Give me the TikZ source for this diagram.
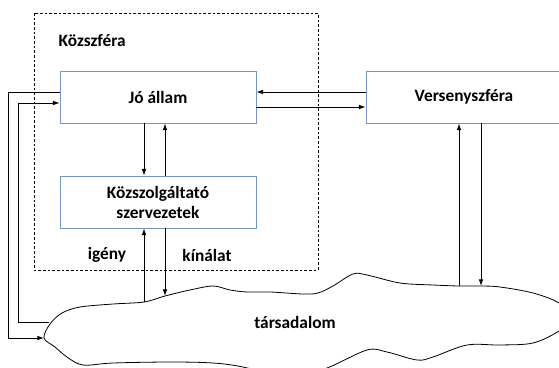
\documentclass[tikz,border=0pt]{standalone}
\usepackage{fontspec}
\setmainfont{Carlito}
\usetikzlibrary{arrows.meta}
\definecolor{boxblue}{RGB}{120,150,195}
\tikzset{
  box/.style={draw=boxblue,line width=.6pt,fill=white,minimum width=147pt,minimum height=39pt,align=center,font=\fontsize{13}{15}\selectfont\bfseries},
  arr/.style={-{Latex[length=5pt,width=3.5pt]},line width=.7pt},
  lbl/.style={font=\fontsize{13}{15}\selectfont\bfseries}
}
\begin{document}
\begin{tikzpicture}[x=.75pt,y=-.75pt]
\useasboundingbox (0,0) rectangle (559,367);
\clip (0,0) rectangle (559,367);
% Közszféra keret
\draw[dash pattern=on 2pt off 1.5pt,line width=.5pt] (34,13) rectangle (318,270);
\node[lbl,anchor=west] (kozszfera) at (54,41) {Közszféra};
% dobozok
\node[box] (jo) at (158,97) {Jó állam};
\node[box] (kozsz) at (158,202) {Közszolgáltató\\szervezetek};
\node[box] (verseny) at (464,97) {Versenyszféra};
% társadalom
\draw[line width=.6pt] plot[smooth cycle,tension=.55] coordinates {
  (44,338) (50,324) (62,313) (80,307) (113,304) (144,302) (165,296)
  (190,290) (213,286) (230,290) (247,292) (270,292) (303,294) (318,293)
  (333,286) (353,274) (367,275) (400,283) (433,285) (459,286) (481,286)
  (500,287) (533,293) (559,303) (572,318) (559,331) (533,343) (500,345)
  (467,345) (433,357) (417,360) (387,352) (367,350) (327,368) (290,378)
  (243,367) (213,363) (170,362) (113,363) (83,365) (67,357) (55,347)};
\node[lbl] (tars) at (295,322) {társadalom};
\coordinate (tbal) at (44,338);
\coordinate (tbal2) at (49,322);
\coordinate (tigeny) at (144,302);
\coordinate (tkinal) at (165,296);
\coordinate (tvfel) at (459,286);
\coordinate (tvle) at (481,286);
% feliratok
\node[lbl] (igeny) at (107,255) {igény};
\node[lbl] (kinalat) at (207,255) {kínálat};
% nyilak
\draw[arr] (jo.south -| 144,0) -- (kozsz.north -| 144,0);
\draw[arr] (kozsz.north -| 165,0) -- (jo.south -| 165,0);
\draw[arr] (tigeny) -- (kozsz.south -| tigeny);
\draw[arr] (kozsz.south -| tkinal) -- (tkinal);
\draw[arr] (verseny.west |- 0,92) -- (jo.east |- 0,92);
\draw[arr] (jo.east |- 0,107) -- (verseny.west |- 0,107);
\draw[arr] (tvfel) -- (verseny.south -| tvfel);
\draw[arr] (verseny.south -| tvle) -- (tvle);
\draw[arr] (jo.west |- 0,92) -| (8,338) -- (tbal);
\draw[arr] (tbal2) -| (18,103) -- (jo.west |- 0,103);
\end{tikzpicture}
\end{document}
